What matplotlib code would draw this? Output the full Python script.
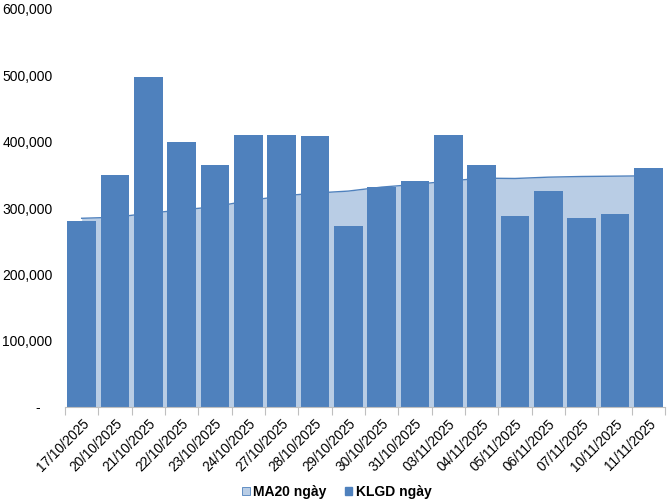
import matplotlib
matplotlib.use("Agg")
import matplotlib.pyplot as plt
from matplotlib.patches import Patch
import numpy as np

dates = ["17/10/2025", "20/10/2025", "21/10/2025", "22/10/2025", "23/10/2025",
         "24/10/2025", "27/10/2025", "28/10/2025", "29/10/2025", "30/10/2025",
         "31/10/2025", "03/11/2025", "04/11/2025", "05/11/2025", "06/11/2025",
         "07/11/2025", "10/11/2025", "11/11/2025"]
klgd = [281000, 350000, 497000, 400000, 365000, 410000, 410000, 409000, 273000,
        331000, 341000, 410000, 365000, 288000, 326000, 285000, 291000, 361000]
ma20 = [284500, 286000, 292000, 297000, 302000, 311000, 318000, 322500, 325500,
        331500, 335500, 340500, 345000, 344500, 346500, 347500, 348000, 348500]
yticks = [0, 100000, 200000, 300000, 400000, 500000, 600000]
ytick_labels = ["-   ", "100,000", "200,000", "300,000", "400,000", "500,000", "600,000"]

plt.rcParams['font.family'] = ['Liberation Sans', 'DejaVu Sans']

fig = plt.figure(figsize=(6.68, 5.04), dpi=100)
ax = fig.add_axes([65/668, 97/504, 600/668, 398/504])

x = np.arange(len(dates))
ax.fill_between(x, 0, ma20, color="#B9CDE5", zorder=1, linewidth=0)
ax.plot(x, ma20, color="#4F81BD", lw=1.0, zorder=1.5)
ax.bar(x, klgd, width=0.86, color="#4F81BD", zorder=2)

ax.set_xlim(-0.5, len(dates) - 0.5)
ax.set_ylim(0, 600000)
ax.set_yticks(yticks)
ax.set_yticklabels(ytick_labels, fontsize=10)
ax.tick_params(axis='y', length=0, pad=9)

ax.set_xticks(x)
ax.set_xticklabels(dates, rotation=45, ha='right', rotation_mode='anchor', fontsize=9.8)
ax.tick_params(axis='x', which='major', length=0, pad=7)
ax.set_xticks(np.arange(-0.5, len(dates), 1.0), minor=True)
ax.tick_params(axis='x', which='minor', length=6, color="#BFBFBF", width=0.8)

for s in ['top', 'right', 'left']:
    ax.spines[s].set_visible(False)
ax.spines['bottom'].set_color("#BFBFBF")
ax.spines['bottom'].set_linewidth(0.8)

handles = [Patch(facecolor="#B9CDE5", edgecolor="#4F81BD", linewidth=0.6, label="MA20 ngày"),
           Patch(facecolor="#4F81BD", edgecolor="#4F81BD", label="KLGD ngày")]
fig.legend(handles=handles, loc='center', bbox_to_anchor=(337/668, 1 - 492/504), ncol=2,
           frameon=False, handlelength=0.55, handleheight=0.55, handletextpad=0.25,
           columnspacing=1.3,
           prop={'family': ['Liberation Sans Narrow', 'Liberation Sans'], 'weight': 'bold', 'size': 10})

fig.savefig("out.png", dpi=100)
